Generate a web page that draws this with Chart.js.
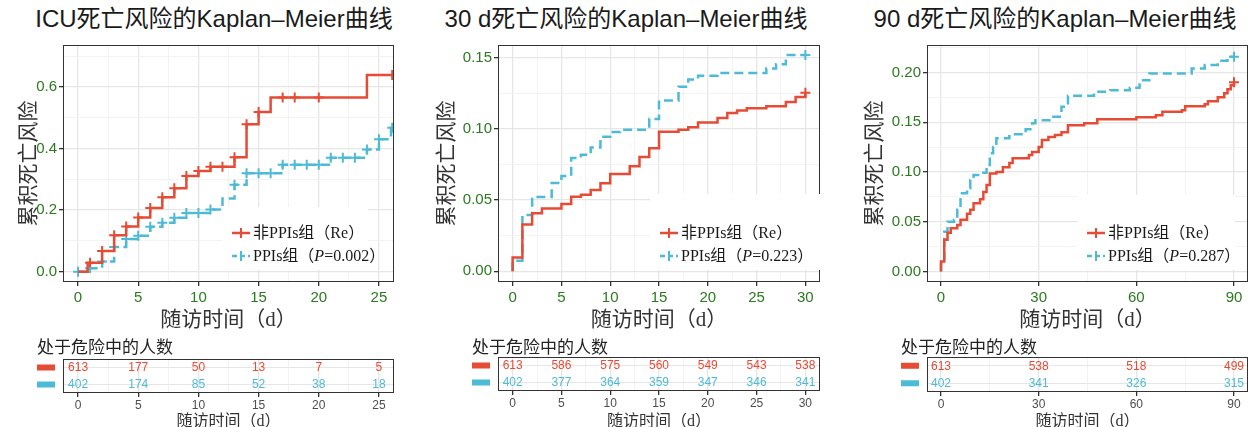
<!DOCTYPE html>
<html lang="zh">
<head>
<meta charset="UTF-8" />
<title>Kaplan–Meier曲线</title>
<script src="https://cdn.jsdelivr.net/npm/chart.js"></script>
<style>
  body { margin: 0; background: #fff; width: 1260px; height: 427px; position: relative; overflow: hidden; }
  .title {
    position: absolute; top: 7px; width: 420px; text-align: center;
    font: 24px/24px "Liberation Sans", "Noto Sans CJK SC", sans-serif; color: #1a1a1a;
  }
  canvas { position: absolute; }
</style>
</head>
<body>
  <div class="title" style="left:4px">ICU死亡风险的Kaplan–Meier曲线</div>
  <div class="title" style="left:416px">30 d死亡风险的Kaplan–Meier曲线</div>
  <div class="title" style="left:845px">90 d死亡风险的Kaplan–Meier曲线</div>

  <canvas id="km1" width="420" height="335" style="left:0;top:0"></canvas>
  <canvas id="km2" width="420" height="335" style="left:420px;top:0"></canvas>
  <canvas id="km3" width="420" height="335" style="left:840px;top:0"></canvas>
  <canvas id="rk1" width="420" height="92" style="left:0;top:335px"></canvas>
  <canvas id="rk2" width="420" height="92" style="left:420px;top:335px"></canvas>
  <canvas id="rk3" width="420" height="92" style="left:840px;top:335px"></canvas>

<script>
  // ICU 死亡
  const icuReT = [0, 0.8, 2, 3, 4, 5, 6, 7, 8, 9, 10, 11, 13, 14, 15, 16, 24, 26.2];
  const icuReY = [0, 0.029, 0.067, 0.118, 0.147, 0.176, 0.207, 0.242, 0.271, 0.311, 0.327, 0.341, 0.372, 0.479, 0.519, 0.566, 0.639, 0.639];
  const icuReCensor = [1, 2, 3, 4, 5, 6, 7, 8, 9, 10, 11, 12, 13, 14, 15, 17, 18, 20, 26.1];
  const icuPpiT = [0, 1, 2, 3, 4, 5, 6, 7, 8, 9, 11, 12, 13, 14, 17, 21, 24, 25, 26, 26.2];
  const icuPpiY = [0, 0.011, 0.033, 0.080, 0.106, 0.117, 0.146, 0.159, 0.175, 0.191, 0.202, 0.238, 0.282, 0.320, 0.347, 0.370, 0.397, 0.430, 0.468, 0.468];
  const icuPpiCensor = [0, 1, 2, 3, 4, 5, 6, 7, 8, 9, 10, 11, 13, 14, 15, 16, 17, 18, 19, 20, 21, 22, 23, 24, 25, 26.1];
  const icuXTicks = [0, 5, 10, 15, 20, 25];
  const icuYTicks = [0, 0.2, 0.4, 0.6];
  const icuYLabels = ['0.0', '0.2', '0.4', '0.6'];
  const icuRiskT = [0, 5, 10, 15, 20, 25];
  const icuRiskRe = [613, 177, 50, 13, 7, 5];
  const icuRiskPpi = [402, 174, 85, 52, 38, 18];
  const icuP = '0.002';

  // 30 d 死亡
  const d30ReT = [0, 0, 1, 2, 3, 5, 6, 7, 8, 9, 10, 12, 13, 14, 15, 17, 18, 19, 21, 22, 23, 24, 26, 28, 29, 30];
  const d30ReY = [0, 0.0096, 0.0329, 0.0407, 0.0440, 0.0472, 0.0523, 0.0538, 0.0570, 0.0618, 0.0683, 0.0738, 0.0802, 0.0865, 0.0980, 0.0995, 0.1011, 0.1046, 0.1077, 0.1112, 0.1129, 0.1145, 0.1159, 0.1190, 0.1225, 0.1255];
  const d30ReCensor = [30];
  const d30PpiT = [0, 0, 1, 2, 4, 5, 6, 7, 8, 9, 10, 11, 14, 15, 17, 18, 19, 21, 26, 27, 28, 30];
  const d30PpiY = [0, 0.0073, 0.0395, 0.0522, 0.0620, 0.0670, 0.0795, 0.0818, 0.0870, 0.0945, 0.0978, 0.0995, 0.1070, 0.1200, 0.1296, 0.1347, 0.1373, 0.1394, 0.1425, 0.1455, 0.1519, 0.1519];
  const d30PpiCensor = [30];
  const d30XTicks = [0, 5, 10, 15, 20, 25, 30];
  const d30YTicks = [0, 0.05, 0.10, 0.15];
  const d30YLabels = ['0.00', '0.05', '0.10', '0.15'];
  const d30RiskT = [0, 5, 10, 15, 20, 25, 30];
  const d30RiskRe = [613, 586, 575, 560, 549, 543, 538];
  const d30RiskPpi = [402, 377, 364, 359, 347, 346, 341];
  const d30P = '0.223';

  // 90 d 死亡
  const d90ReT = [0, 0, 1, 2, 3, 5, 6, 8, 9, 10, 12, 13, 14, 15, 17, 19, 21, 22, 27, 28, 30, 31, 33, 35, 37, 39, 44, 48, 60, 66, 68, 74, 75, 81, 82, 85, 87, 88, 89, 90];
  const d90ReY = [0, 0.010, 0.032, 0.039, 0.0435, 0.0468, 0.052, 0.058, 0.062, 0.0686, 0.0726, 0.080, 0.087, 0.0985, 0.100, 0.1047, 0.109, 0.1137, 0.117, 0.120, 0.125, 0.132, 0.135, 0.137, 0.140, 0.147, 0.1488, 0.153, 0.155, 0.157, 0.1605, 0.162, 0.166, 0.168, 0.171, 0.175, 0.179, 0.183, 0.187, 0.190];
  const d90ReCensor = [90];
  const d90PpiT = [0, 0, 1, 2, 4, 5, 6, 8, 9, 10, 13, 14, 15, 16, 17, 21, 26, 28, 29, 34, 37, 39, 47, 52, 58, 61, 64, 77, 81, 85, 88, 90];
  const d90PpiY = [0, 0.0077, 0.040, 0.050, 0.052, 0.062, 0.0786, 0.0836, 0.092, 0.097, 0.0993, 0.107, 0.1187, 0.125, 0.1338, 0.1378, 0.143, 0.149, 0.152, 0.1555, 0.1656, 0.1766, 0.1806, 0.182, 0.1846, 0.192, 0.199, 0.204, 0.2074, 0.2117, 0.2157, 0.2157];
  const d90PpiCensor = [90];
  const d90XTicks = [0, 30, 60, 90];
  const d90YTicks = [0, 0.05, 0.10, 0.15, 0.20];
  const d90YLabels = ['0.00', '0.05', '0.10', '0.15', '0.20'];
  const d90RiskT = [0, 30, 60, 90];
  const d90RiskRe = [613, 538, 518, 499];
  const d90RiskPpi = [402, 341, 326, 315];
  const d90P = '0.287';

  const RED = '#E64B35', BLUE = '#4DBBD5', GREEN = '#2A7A1E';
  const SERIF = '"Liberation Serif", "Noto Sans CJK SC", serif';
  const SANS = '"Liberation Sans", "Noto Sans CJK SC", sans-serif';
  const CJK = '"Noto Sans CJK SC", sans-serif';
  const GRID_MAJ = '#e6e6e6', GRID_MIN = '#f0f0f0';

  function stepAt(ts, ys, t) {
    let v = ys[0];
    for (let i = 0; i < ts.length; i++) if (ts[i] <= t) v = ys[i];
    return v;
  }
  function pts(ts, ys) { return ts.map((t, i) => ({ x: t, y: ys[i] })); }
  function censorPts(ts, ys, cs) { return cs.map(t => ({ x: t, y: stepAt(ts, ys, t) })); }
  function minorOf(major, lo, hi) {
    const step = major[1] - major[0], out = [];
    for (let v = major[0] - step / 2; v <= hi + 1e-9; v += step) if (v >= lo) out.push(+v.toFixed(5));
    return out;
  }
  const isIn = (arr, v) => arr.some(m => Math.abs(m - v) < 1e-7);

  function gridAxis(major, minor, lo, hi) {
    return {
      type: 'linear', min: lo, max: hi,
      afterBuildTicks: s => { s.ticks = major.concat(minor).sort((a, b) => a - b).map(v => ({ value: v })); },
      grid: {
        color: c => (c.tick && isIn(major, c.tick.value)) ? GRID_MAJ : GRID_MIN,
        lineWidth: c => (c.tick && isIn(major, c.tick.value)) ? 1.3 : 0.8,
        tickColor: c => (c.tick && isIn(major, c.tick.value)) ? '#333' : 'rgba(0,0,0,0)',
        tickLength: 4
      },
      border: { display: false }
    };
  }

  // 边框 + 图例
  const kmFrame = {
    id: 'kmFrame',
    afterDraw(chart, args, o) {
      const { ctx, chartArea: a } = chart;
      ctx.save();
      ctx.strokeStyle = '#333';
      ctx.lineWidth = 1;
      ctx.strokeRect(a.left + 0.5, a.top + 0.5, a.width - 1, a.height - 1);
      if (o.legend) {
        const lg = o.legend;
        const bx = a.right - lg.right - lg.width, by = a.bottom - lg.bottom - lg.height;
        ctx.fillStyle = '#fff';
        ctx.fillRect(bx, by, lg.width, lg.height);
        lg.items.forEach((it, i) => {
          const y = a.bottom - lg.rows[i];
          ctx.strokeStyle = it.color;
          ctx.lineWidth = 2.5;
          ctx.setLineDash(it.dash || []);
          ctx.beginPath(); ctx.moveTo(bx + 10, y); ctx.lineTo(bx + 28, y); ctx.stroke();
          ctx.setLineDash([]);
          ctx.lineWidth = 2;
          ctx.beginPath(); ctx.moveTo(bx + 19, y - 5); ctx.lineTo(bx + 19, y + 5); ctx.stroke();
          let x = bx + 31;
          ctx.fillStyle = '#1a1a1a';
          ctx.textBaseline = 'middle';
          it.text.forEach(seg => {
            ctx.font = (seg.italic ? 'italic ' : '') + '16px ' + SERIF;
            ctx.fillText(seg.t, x, y + 1);
            x += ctx.measureText(seg.t).width;
          });
        });
      }
      ctx.restore();
    }
  };

  function kmChart(id, d) {
    const xMinor = minorOf(d.xTicks, d.xMin, d.xMax);
    const yMinor = minorOf(d.yTicks, d.yMin, d.yMax);
    const xAxis = gridAxis(d.xTicks, xMinor, d.xMin, d.xMax);
    xAxis.afterFit = s => { s.height = 53; };
    xAxis.ticks = {
      autoSkip: false, maxRotation: 0, padding: 3, color: GREEN,
      font: { family: SANS, size: 15 },
      callback: v => isIn(d.xTicks, v) ? String(v) : ''
    };
    xAxis.title = { display: true, text: '随访时间（d）', color: '#333', font: { family: SERIF, size: 21, lineHeight: 1 }, padding: { top: 0, bottom: 4.5 } };
    const yAxis = gridAxis(d.yTicks, yMinor, d.yMin, d.yMax);
    yAxis.afterFit = s => { s.width = d.yWidth; };
    yAxis.ticks = {
      autoSkip: false, padding: 2, color: GREEN,
      font: { family: SANS, size: 15 },
      callback: v => { const i = d.yTicks.findIndex(m => Math.abs(m - v) < 1e-7); return i >= 0 ? d.yLabels[i] : ''; }
    };
    yAxis.title = { display: true, text: '累积死亡风险', color: '#333', font: { family: CJK, size: 21, lineHeight: 1 }, padding: { top: d.yTitlePad, bottom: 0 } };

    const line = (data, color, dash) => ({
      data, showLine: true, stepped: true, borderColor: color, borderWidth: 2.5,
      borderDash: dash, pointRadius: 0, fill: false
    });
    const marks = (data, color) => ({
      data, showLine: false, pointStyle: 'cross', pointRadius: 5, pointBorderWidth: 2,
      borderColor: color, backgroundColor: color
    });
    return new Chart(document.getElementById(id), {
      type: 'scatter',
      data: {
        datasets: [
          line(pts(d.reT, d.reY), RED, []),
          line(pts(d.ppiT, d.ppiY), BLUE, [9, 5]),
          marks(censorPts(d.reT, d.reY, d.reC), RED),
          marks(censorPts(d.ppiT, d.ppiY, d.ppiC), BLUE)
        ]
      },
      options: {
        responsive: false, animation: false, devicePixelRatio: 1,
        layout: { padding: { top: 45, right: d.rightPad, left: 0, bottom: 0 } },
        scales: { x: xAxis, y: yAxis },
        plugins: {
          legend: { display: false }, tooltip: { enabled: false },
          kmFrame: {
            legend: {
              right: d.lg[0], bottom: 12, width: d.lg[1], height: d.lg[2], rows: [49, 26],
              items: [
                { color: RED, text: [{ t: '非PPIs组（Re）' }] },
                { color: BLUE, dash: [5, 3], text: [{ t: 'PPIs组（' }, { t: 'P', italic: true }, { t: '=' + d.p + '）' }] }
              ]
            }
          }
        }
      },
      plugins: [kmFrame]
    });
  }

  // 风险表
  const riskText = {
    id: 'riskText',
    afterDraw(chart) {
      const { ctx, chartArea: a } = chart;
      const ys = chart.scales.y;
      ctx.save();
      ctx.strokeStyle = '#333';
      ctx.lineWidth = 1;
      ctx.strokeRect(a.left + 0.5, a.top + 0.5, a.width - 1, a.height - 1);
      ctx.font = '12px ' + SANS;
      ctx.textAlign = 'center';
      ctx.textBaseline = 'middle';
      chart.data.datasets.forEach((ds, k) => {
        ctx.fillStyle = ds.borderColor;
        chart.getDatasetMeta(k).data.forEach((el, i) => {
          ctx.fillText(String(ds.data[i].n), el.x, el.y + 0.5);
        });
        const ry = ys.getPixelForValue(k);
        ctx.fillRect(a.left - 26, ry - 3, 18, 6);
      });
      ctx.textAlign = 'left';
      ctx.fillStyle = '#222';
      ctx.font = '17px ' + CJK;
      ctx.fillText('处于危险中的人数', a.left - 26, 12);
      ctx.restore();
    }
  };

  function riskChart(id, d) {
    const xMinor = minorOf(d.xTicks, d.xMin, d.xMax);
    const xAxis = gridAxis(d.xTicks, xMinor, d.xMin, d.xMax);
    xAxis.afterFit = s => { s.height = d.tHeight; };
    xAxis.ticks = {
      autoSkip: false, maxRotation: 0, padding: 1, color: '#4d4d4d',
      font: { family: SANS, size: 12 },
      callback: v => isIn(d.xTicks, v) ? String(v) : ''
    };
    xAxis.title = { display: true, text: '随访时间（d）', color: '#333', font: { family: SERIF, size: 16, lineHeight: 1 }, padding: { top: 0, bottom: -3 } };
    return new Chart(document.getElementById(id), {
      type: 'scatter',
      data: {
        datasets: [
          { borderColor: RED, pointRadius: 0, data: d.riskT.map((t, i) => ({ x: t, y: '非PPIs组', n: d.riskRe[i] })) },
          { borderColor: BLUE, pointRadius: 0, data: d.riskT.map((t, i) => ({ x: t, y: 'PPIs组', n: d.riskPpi[i] })) }
        ]
      },
      options: {
        responsive: false, animation: false, devicePixelRatio: 1,
        layout: { padding: { top: d.tTop, right: d.rightPad, left: 0, bottom: 0 } },
        scales: {
          x: xAxis,
          y: {
            type: 'category', labels: ['非PPIs组', 'PPIs组'], offset: true,
            afterFit: s => { s.width = d.yWidth; },
            ticks: { display: false },
            grid: { color: GRID_MAJ, lineWidth: 1, drawTicks: false },
            border: { display: false }
          }
        },
        plugins: { legend: { display: false }, tooltip: { enabled: false } }
      },
      plugins: [riskText]
    });
  }

  const panels = [
    {
      km: 'km1', rk: 'rk1', reT: icuReT, reY: icuReY, reC: icuReCensor, ppiT: icuPpiT, ppiY: icuPpiY, ppiC: icuPpiCensor,
      xTicks: icuXTicks, yTicks: icuYTicks, yLabels: icuYLabels, xMin: -1.25, xMax: 26.25, yMin: -0.0336, yMax: 0.7365,
      yWidth: 63, rightPad: 26, yTitlePad: 16.5, p: icuP, lg: [26, 146, 63],
      riskT: icuRiskT, riskRe: icuRiskRe, riskPpi: icuRiskPpi, tTop: 24, tHeight: 34
    },
    {
      km: 'km2', rk: 'rk2', reT: d30ReT, reY: d30ReY, reC: d30ReCensor, ppiT: d30PpiT, ppiY: d30PpiY, ppiC: d30PpiCensor,
      xTicks: d30XTicks, yTicks: d30YTicks, yLabels: d30YLabels, xMin: -1.5, xMax: 31.5, yMin: -0.0076, yMax: 0.159,
      yWidth: 78, rightPad: 20, yTitlePad: 14.5, p: d30P, lg: [0, 170, 76],
      riskT: d30RiskT, riskRe: d30RiskRe, riskPpi: d30RiskPpi, tTop: 22, tHeight: 36
    },
    {
      km: 'km3', rk: 'rk3', reT: d90ReT, reY: d90ReY, reC: d90ReCensor, ppiT: d90PpiT, ppiY: d90PpiY, ppiC: d90PpiCensor,
      xTicks: d90XTicks, yTicks: d90YTicks, yLabels: d90YLabels, xMin: -4.3, xMax: 94.3, yMin: -0.0105, yMax: 0.2275,
      yWidth: 87, rightPad: 12, yTitlePad: 22.5, p: d90P, lg: [13, 158, 75],
      riskT: d90RiskT, riskRe: d90RiskRe, riskPpi: d90RiskPpi, tTop: 22, tHeight: 35
    }
  ];

  panels.forEach(p => { kmChart(p.km, p); riskChart(p.rk, p); });
</script>
</body>
</html>
